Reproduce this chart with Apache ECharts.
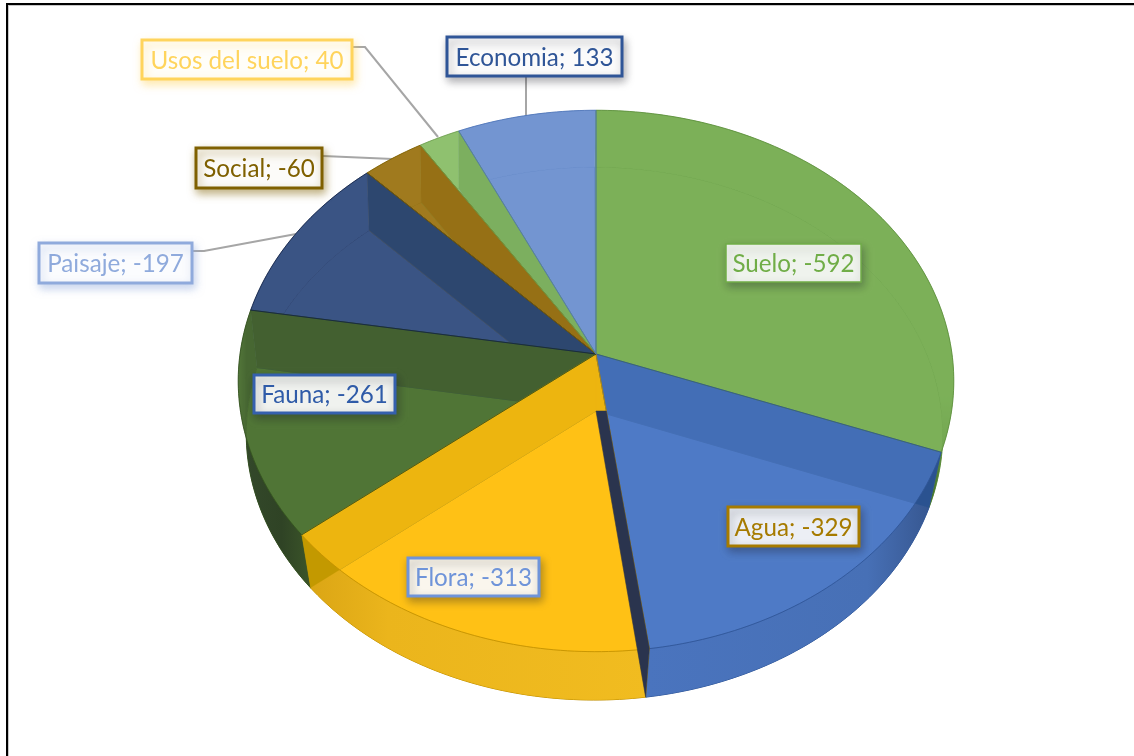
<!DOCTYPE html>
<html>
<head>
<meta charset="utf-8">
<style>html,body{margin:0;padding:0;background:#fff}#c{width:1134px;height:756px}</style>
<script src="https://cdn.jsdelivr.net/npm/echarts@6/dist/echarts.min.js"></script>
</head>
<body>
<div id="c"></div>
<script>
// ---- data ----
const categories = ['Suelo', 'Agua', 'Flora', 'Fauna', 'Paisaje', 'Social', 'Usos del suelo', 'Economia'];
const values = [-592, -329, -313, -261, -197, -60, 40, 133];

// ---- styles ----
const faceColors = ['#7CB058', '#4F7BC6', '#FFC116', '#507536', '#3B5484', '#A07A1E', '#8FC16F', '#7395D1'];
const wallColors = ['#5F8F40', '#2A5290', '#C39900', '#252F22', '#10293E', '#7F5700', '#538539', '#4F76B8'];
const edgeColors = ['#5D8F3C', '#2F5597', '#C29000', '#34521F', '#142448', '#7F6000', '#6FA04F', '#4F76B8'];
const rimStops = [
  [[0, '#7CB058'], [0.72, '#7CB058'], [1, '#3F6A28']],
  [[0, '#4A74BE'], [0.75, '#4770B6'], [0.92, '#3A5C98'], [1, '#33528A']],
  [[0, '#D9A414'], [0.25, '#EBB51C'], [1, '#F1BC20']],
  [[0, '#5A7A42'], [0.12, '#33482A'], [0.6, '#2F4325'], [1, '#3B5529']],
  [[0, '#3B5484'], [1, '#3B5484']],
  [[0, '#A07A1E'], [1, '#A07A1E']],
  [[0, '#8FC16F'], [1, '#8FC16F']],
  [[0, '#7395D1'], [1, '#7395D1']]
];
const labelColors = ['#70AD47', '#A67B00', '#6F94D9', '#2F5BA8', '#8FAADC', '#7F6000', '#FFD45C', '#2F5597'];
const borderColors = ['#70AD47', '#A67B00', '#6F94D9', '#3560AE', '#8FAADC', '#7F6000', '#FFD45C', '#2F5597'];
const labelFills = [0.9, 0.9, 0.92, 0.92, 0.92, 0.95, 0.92, 0.94];

// ---- layout ----
const labelBoxes = [[726, 244, 135, 38], [728, 507, 131, 39], [408, 558, 131, 38], [254, 375, 141, 38],
                    [39, 243, 153, 40], [196, 148, 126, 40], [142, 40, 210, 39], [447, 37, 175, 39]];
const leaderLines = [
  [[353, 47], [365, 47], [438, 137]],
  [[323, 156], [393, 159]],
  [[193, 251], [204, 251], [296, 234]],
  [[526, 77], [526, 116]]
];
const wallOrder = [0, 6, 5, 4, 3, 2, 1];
const topView = { cx: 596, cy: 354, a: 356, b: 268, k: 0.0996 };
const botView = { cx: 594.5, cy: 411, a: 347, b: 264.6, k: 0.0845 };
const TOP_ALPHA = 0.7;

const magnitudes = values.map(Math.abs);
const total = magnitudes.reduce((s, v) => s + v, 0);
const angles = [0];
magnitudes.forEach((v, i) => angles.push(angles[i] + v / total * 360));

function project(view, deg) {
  const t = deg * Math.PI / 180, X = Math.sin(t), Y = -Math.cos(t), w = 1 - view.k * Y;
  return [view.cx + view.a * X / w, view.cy + view.b * Y / w];
}
function arc(view, d0, d1) {
  const n = Math.max(2, Math.ceil(Math.abs(d1 - d0))), pts = [];
  for (let j = 0; j <= n; j++) pts.push(project(view, d0 + (d1 - d0) * j / n));
  return pts;
}
const botCentre = [596, botView.cy];
function wedge(view, i) {
  return [view === botView ? botCentre : [view.cx, view.cy]].concat(arc(view, angles[i], angles[i + 1]));
}
function hexA(hex, a) {
  const n = parseInt(hex.slice(1), 16);
  return 'rgba(' + (n >> 16) + ',' + ((n >> 8) & 255) + ',' + (n & 255) + ',' + a + ')';
}
function poly(points, style) { return { type: 'polygon', shape: { points }, style }; }
const EMPTY = { type: 'group', children: [] };

const layers = {
  bottom(i) {
    return poly(wedge(botView, i), { fill: faceColors[i], stroke: edgeColors[i], lineWidth: 1 });
  },
  rim(i) {
    const pts = arc(topView, angles[i], angles[i + 1]).concat(arc(botView, angles[i + 1], angles[i]));
    const horizontal = i !== 0;
    return poly(pts, {
      fill: new echarts.graphic.LinearGradient(0, 0, horizontal ? 1 : 0, horizontal ? 0 : 1,
        rimStops[i].map(s => ({ offset: s[0], color: s[1] }))),
      stroke: hexA(edgeColors[i], 0.35), lineWidth: 0.5
    });
  },
  walls(row) {
    // the wall under a radial edge, painted by the slice lying below that edge
    const i = wallOrder[row];
    if (i === undefined) return EMPTY;
    const d = angles[i + 1], owner = d < 180 ? i + 1 : i;
    return poly([[topView.cx, topView.cy], project(topView, d), project(botView, d), botCentre],
      { fill: wallColors[owner], stroke: hexA(wallColors[owner], 0.5), lineWidth: 0.5 });
  },
  top(i) {
    return poly(wedge(topView, i), { fill: hexA(faceColors[i], TOP_ALPHA) });
  },
  edges(i) {
    return poly(wedge(topView, i), { fill: 'none', stroke: hexA(edgeColors[i], 0.85), lineWidth: 1 });
  },
  front(i) {
    // the one wall that faces the viewer: the radial edge closest to the front
    const d = angles[i + 1];
    if (d < 160 || d > 200) return EMPTY;
    const rimTop = project(topView, d);
    const f = (botView.cy - topView.cy) / (rimTop[1] - topView.cy);
    const onEdge = [topView.cx + (rimTop[0] - topView.cx) * f, botView.cy];
    return poly([botCentre, onEdge, rimTop, project(botView, d)],
      { fill: '#2A344E', stroke: '#2A344E', lineWidth: 0.5 });
  },
  labels(i) {
    const b = labelBoxes[i];
    return {
      type: 'group',
      children: [
        { type: 'rect', shape: { x: b[0], y: b[1], width: b[2], height: b[3] },
          style: { fill: 'rgba(255,255,255,' + labelFills[i] + ')', stroke: borderColors[i], lineWidth: i === 0 ? 1.5 : 3,
                   shadowBlur: 8, shadowOffsetX: 2, shadowOffsetY: 4,
                   shadowColor: (i === 6 || i === 4 || i === 5) ? hexA(borderColors[i], 0.5) : 'rgba(30,30,40,0.35)' } },
        { type: 'text',
          style: { x: b[0] + b[2] / 2, y: b[1] + b[3] / 2 + 1.5, align: 'center', verticalAlign: 'middle',
                   text: categories[i] + '; ' + values[i], fill: labelColors[i],
                   font: '24.2px Lato, Carlito, "Open Sans", sans-serif' } }
      ]
    };
  }
};

function layer(name, z) {
  return {
    type: 'custom', name, coordinateSystem: 'none', silent: true, z, animation: false, clip: false,
    data: categories.map((c, i) => [i, magnitudes[i]]),
    renderItem: (params) => layers[name](params.dataIndex)
  };
}

const chart = echarts.init(document.getElementById('c'), null, { renderer: 'canvas' });
chart.setOption({
  backgroundColor: '#ffffff',
  animation: false,
  graphic: [
    { type: 'rect', z: 0, shape: { x: 6, y: 3, width: 1128, height: 2 }, style: { fill: '#000' } },
    { type: 'rect', z: 0, shape: { x: 6, y: 3, width: 2, height: 753 }, style: { fill: '#000' } },
    { type: 'rect', z: 0, shape: { x: 8, y: 5, width: 1126, height: 1 }, style: { fill: '#c8c8c8' } },
    { type: 'rect', z: 0, shape: { x: 8, y: 5, width: 1, height: 751 }, style: { fill: '#c8c8c8' } }
  ],
  series: [
    { type: 'custom', name: 'leaders', coordinateSystem: 'none', silent: true, z: 1, animation: false,
      data: leaderLines.map((l, i) => [i]),
      renderItem: (params) => ({ type: 'polyline', shape: { points: leaderLines[params.dataIndex] },
        style: { fill: 'none', stroke: '#A6A6A6', lineWidth: 2 } }) },
    layer('bottom', 2), layer('rim', 3), layer('walls', 4), layer('top', 5),
    layer('edges', 6), layer('front', 7), layer('labels', 8)
  ]
});
</script>
</body>
</html>
